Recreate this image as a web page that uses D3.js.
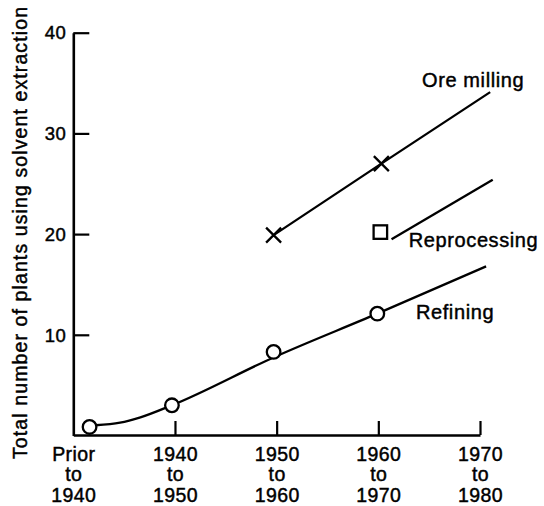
<!DOCTYPE html>
<html>
<head>
<meta charset="utf-8">
<script src="https://cdn.jsdelivr.net/npm/d3@7"></script>
<style>
  html, body { margin: 0; padding: 0; background: #fff; }
  svg { display: block; }
  text { font-family: "Liberation Sans", Arial, Helvetica, sans-serif; fill: #000; stroke: #000; stroke-width: 0.45px; }
</style>
</head>
<body>
<svg id="chart" width="544" height="506"></svg>
<script>
// ---- data ----
const categoryYears = [1930, 1940, 1950, 1960, 1970];
const categoryLabels = [
  ["Prior", "to", "1940"],
  ["1940", "to", "1950"],
  ["1950", "to", "1960"],
  ["1960", "to", "1970"],
  ["1970", "to", "1980"]
];
const xTickYears = [1940, 1950, 1960, 1970];
const yTickValues = [10, 20, 30, 40];

// Refining (circles) and its fitted curve
const refiningYears = [1931.6, 1939.7, 1949.7, 1959.9];
const refiningValues = [0.85, 3.0, 8.3, 12.1];
const refiningLineYears = [1932.2, 1934.6, 1936.6, 1939.7, 1949.8, 1959.9, 1970.6];
const refiningLineValues = [1.02, 1.27, 1.8, 3.0, 7.8, 12.1, 16.8];

// Ore milling (crosses) and its line
const oreYears = [1949.7, 1960.3];
const oreValues = [19.9, 27.0];
const oreLineYears = [1949.7, 1960.3, 1971.0];
const oreLineValues = [19.9, 27.0, 34.1];

// Reprocessing (square) and its line
const reproYears = [1960.2];
const reproValues = [20.2];
const reproLineYears = [1961.3, 1971.25];
const reproLineValues = [19.5, 25.4];

// Series labels
const seriesLabels = ["Ore milling", "Reprocessing", "Refining"];
const seriesLabelYears = [1964.3, 1963.0, 1963.7];
const seriesLabelValues = [34.6, 18.7, 11.6];

const yTitle = "Total number of plants using solvent extraction";

// ---- drawing ----
const svg = d3.select("#chart");
const x = d3.scaleLinear().domain([1930, 1970]).range([73.3, 480]);
const y = d3.scaleLinear().domain([0, 40]).range([435.5, 32.7]);

// axes
const yAxis = d3.axisLeft(y).tickValues(yTickValues).tickSizeInner(-16).tickSizeOuter(0).tickPadding(7).tickFormat(d3.format("d"));
const gy = svg.append("g").attr("transform", `translate(${x(1930)},0)`).call(yAxis);
gy.select(".domain").attr("stroke", "#000").attr("stroke-width", 2.6);
gy.selectAll(".tick line").attr("stroke", "#000").attr("stroke-width", 2.2);
gy.selectAll(".tick text").attr("font-size", 18.5).attr("letter-spacing", 0.5)
  .attr("font-family", "Liberation Sans, Arial, sans-serif").attr("fill", "#000").attr("dy", "0.34em");

const xAxis = d3.axisBottom(x).tickValues(xTickYears).tickSizeInner(-14).tickSizeOuter(0).tickFormat("");
const gx = svg.append("g").attr("transform", `translate(0,${y(0) - 0.5})`).call(xAxis);
gx.select(".domain").attr("stroke", "#000").attr("stroke-width", 2.6);
gx.selectAll(".tick line").attr("stroke", "#000").attr("stroke-width", 2.2);

// category labels (three lines each)
const lineBaselines = [460.5, 481.2, 501.7];
const catG = svg.append("g");
categoryYears.forEach((yr, i) => {
  const t = catG.append("text")
    .attr("text-anchor", "middle")
    .attr("font-size", 19.5)
    .attr("letter-spacing", 0.4);
  categoryLabels[i].forEach((s, j) => {
    t.append("tspan").attr("x", x(yr) + 0.5).attr("y", lineBaselines[j]).text(s);
  });
});

// y title
svg.append("text")
  .attr("transform", `translate(27,${233}) rotate(-90)`)
  .attr("text-anchor", "middle")
  .attr("font-size", 19.5)
  .attr("textLength", 452)
  .attr("lengthAdjust", "spacing")
  .text(yTitle);

// lines
const zip = (a, b) => a.map((v, i) => [v, b[i]]);
const straight = d3.line().x(d => x(d[0])).y(d => y(d[1]));
const smooth = d3.line().x(d => x(d[0])).y(d => y(d[1])).curve(d3.curveMonotoneX);

svg.append("path")
  .attr("fill", "none").attr("stroke", "#000").attr("stroke-width", 2.3)
  .attr("d", smooth(zip(refiningLineYears, refiningLineValues)));

svg.append("path")
  .attr("fill", "none").attr("stroke", "#000").attr("stroke-width", 2.3)
  .attr("d", straight(zip(oreLineYears, oreLineValues)));

svg.append("path")
  .attr("fill", "none").attr("stroke", "#000").attr("stroke-width", 2.3)
  .attr("d", straight(zip(reproLineYears, reproLineValues)));

// markers
svg.append("g").selectAll("circle")
  .data(zip(refiningYears, refiningValues))
  .join("circle")
  .attr("cx", d => x(d[0])).attr("cy", d => y(d[1])).attr("r", 6.8)
  .attr("fill", "#fff").attr("stroke", "#000").attr("stroke-width", 2.3);

const crossSize = 7.5;
svg.append("g").selectAll("path")
  .data(zip(oreYears, oreValues))
  .join("path")
  .attr("d", d => {
    const cx = x(d[0]), cy = y(d[1]), s = crossSize;
    return `M${cx - s},${cy - s}L${cx + s},${cy + s}M${cx - s},${cy + s}L${cx + s},${cy - s}`;
  })
  .attr("fill", "none").attr("stroke", "#000").attr("stroke-width", 2.3);

const sq = 13.5;
svg.append("g").selectAll("rect")
  .data(zip(reproYears, reproValues))
  .join("rect")
  .attr("x", d => x(d[0]) - sq / 2).attr("y", d => y(d[1]) - sq / 2)
  .attr("width", sq).attr("height", sq)
  .attr("fill", "#fff").attr("stroke", "#000").attr("stroke-width", 2.3);

// series labels
svg.append("g").selectAll("text")
  .data(seriesLabels)
  .join("text")
  .attr("x", (d, i) => x(seriesLabelYears[i]))
  .attr("y", (d, i) => y(seriesLabelValues[i]))
  .attr("font-size", 20)
  .attr("letter-spacing", 0.6)
  .text(d => d);
</script>
</body>
</html>
